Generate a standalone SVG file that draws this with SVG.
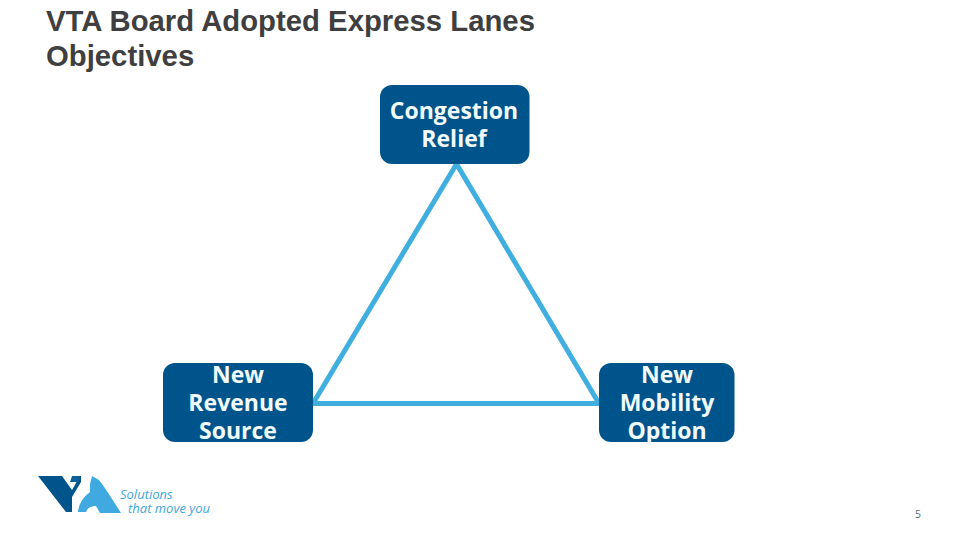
<svg xmlns="http://www.w3.org/2000/svg" width="960" height="540" viewBox="0 0 960 540">
<style>
.title{font:bold 29.3px "Liberation Sans",Arial,sans-serif;fill:#3f3f3f}
.box{fill:#00548c}
.lbl{font:bold 23px "Open Sans","Noto Sans",sans-serif;fill:#f2fbfd;text-anchor:middle}
.conn{fill:none;stroke:#40afe0;stroke-width:5}
.tag{font:italic 13px "Open Sans","Noto Sans",sans-serif;fill:#3fa7dc}
</style>
<rect width="960" height="540" fill="#fff"/>
<g id="title">
<text class="title" x="46" y="31">VTA Board Adopted Express Lanes</text>
<text class="title" x="46" y="66">Objectives</text>
</g>
<g id="connectors">
<path class="conn" d="M456.500 164L313 403.500H599L456.500 164Z"/>
</g>
<g id="node-congestion">
<rect class="box" x="380" y="85" width="149.500" height="79" rx="12"/>
<text class="lbl" x="454" y="119">Congestion</text>
<text class="lbl" x="454" y="147">Relief</text>
</g>
<g id="node-revenue">
<rect class="box" x="163" y="363" width="150" height="79" rx="12"/>
<text class="lbl" x="238" y="383">New</text>
<text class="lbl" x="238" y="411">Revenue</text>
<text class="lbl" x="238" y="439">Source</text>
</g>
<g id="node-mobility">
<rect class="box" x="599" y="363" width="135.500" height="79" rx="12"/>
<text class="lbl" x="667" y="383">New</text>
<text class="lbl" x="667" y="411">Mobility</text>
<text class="lbl" x="667" y="439">Option</text>
</g>
<g id="logo">
<path fill="#00548c" d="M38 476H62L72 490L80 476H81L81 476H81L81 482L72 497L72 512L66 512Z"/>
<path fill="#00548c" d="M75 476H81V476L81 476H81Z"/>
<path fill="#0f5f97" d="M72 476H81L78 482H70Z"/>
<path fill="#3fa9e0" d="M78 512Q79 500 90 492L90 484L92 476L99 480Q104 486 121 513H100L96 506Q88 506 86 512Z"/>
<text class="tag" x="120" y="499">Solutions</text>
<text class="tag" x="128" y="513">that move you</text>
</g>
<g id="page-number">
<text x="918" y="518" text-anchor="middle" style="font:10.500px 'Open Sans','Noto Sans',sans-serif;fill:#5f6b72">5</text>
</g>
</svg>
